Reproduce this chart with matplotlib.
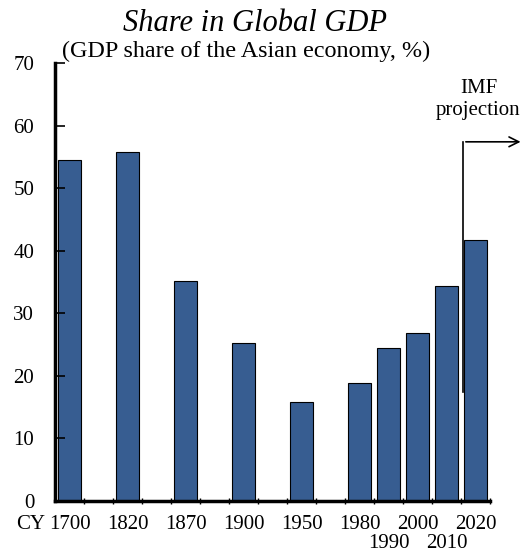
import numpy as np
import matplotlib.pyplot as plt

# data
years = ['1700', '1820', '1870', '1900', '1950', '1980', '1990', '2000', '2010', '2020']
share = [54.5, 55.8, 35.2, 25.2, 15.8, 18.8, 24.4, 26.9, 34.3, 41.7]
# category slots (Excel-style axis with empty slots between the early years)
slots = [0, 2, 4, 6, 8, 10, 11, 12, 13, 14]
second_row = ['1990', '2010']

plt.rcParams['font.family'] = ['Liberation Serif', 'DejaVu Serif']

fig = plt.figure(figsize=(5.26, 5.53), dpi=100)
ax = fig.add_axes([0.1046, 0.0946, 0.8270, 0.7914])

ax.bar(slots, share, width=0.8, color='#375d91', edgecolor='black', linewidth=0.8)

ax.set_xlim(-0.5, 14.5)
ax.set_ylim(0, 70)
ax.set_yticks(range(0, 71, 10))

ax.set_xticks(slots)
ax.set_xticklabels(years)
ax.set_xticks(np.arange(0.5, 14.6, 1), minor=True)
ax.tick_params(axis='x', which='major', length=0, pad=10.5, labelsize=15)
ax.tick_params(axis='x', which='minor', length=5, width=1, direction='inout')
ax.tick_params(axis='y', direction='in', length=7, width=1.2, labelsize=15, pad=15)
# 1990 and 2010 sit on a second row
for tick, y in zip(ax.xaxis.get_major_ticks(), years):
    if y in second_row:
        tick.set_pad(23.8)

for s in ['top', 'right']:
    ax.spines[s].set_visible(False)
ax.spines['left'].set_linewidth(2.5)
ax.spines['bottom'].set_linewidth(2.5)

ax.text(-0.023, -0.054, 'CY', transform=ax.transAxes, ha='right', va='center', fontsize=15)

fig.text(0.485, 0.958, 'Share in Global GDP', ha='center', va='center',
         fontsize=22, style='italic')
ax.text(0.016, 1.003, '(GDP share of the Asian economy, %)', transform=ax.transAxes,
        ha='left', va='bottom', fontsize=17.4)

# IMF projection marker
ax.text(14.1, 64.2, 'IMF\nprojection', ha='center', va='center', fontsize=15,
        linespacing=1.25)
ax.plot([13.57, 13.57], [17.4, 57.4], color='black', lw=1.2, clip_on=False)
ax.annotate('', xy=(15.65, 57.4), xytext=(13.57, 57.4),
            arrowprops=dict(arrowstyle='->,head_length=0.7,head_width=0.35',
                            color='black', lw=1.2), annotation_clip=False)

fig.savefig('out.png', dpi=100)
